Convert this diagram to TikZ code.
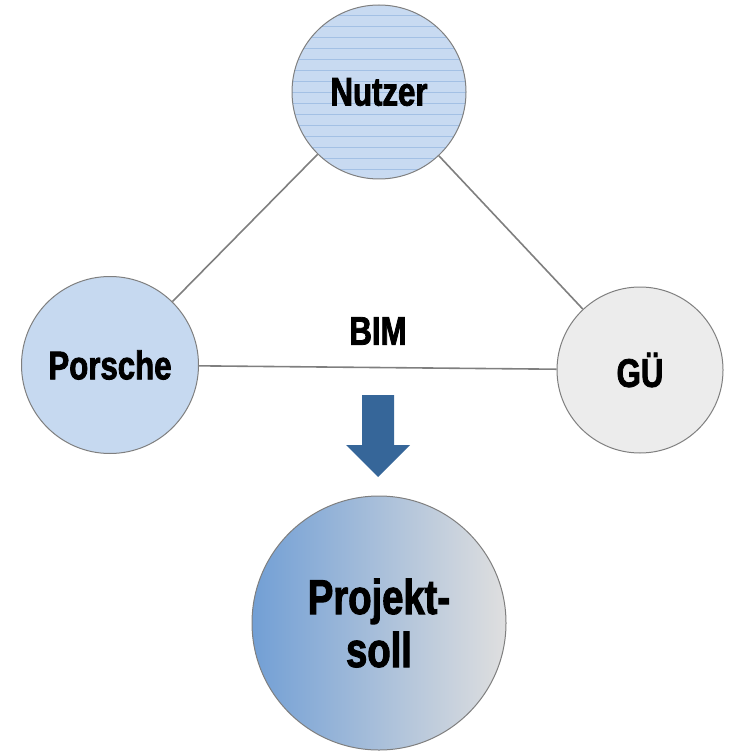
\documentclass[tikz,border=0pt]{standalone}
\usepackage{fontspec}
\setmainfont{Liberation Sans}[FakeStretch=0.78,FakeBold=2]

\definecolor{nutzerblue}{HTML}{C8DAF1}
\definecolor{hatchblue}{HTML}{A3C0E4}
\definecolor{porscheblue}{HTML}{C6D9F0}
\definecolor{guegray}{HTML}{ECECEC}
\definecolor{rimgray}{HTML}{7F7F7F}
\definecolor{arrowblue}{HTML}{366699}
\definecolor{sollleft}{HTML}{729FD5}
\definecolor{sollmid}{HTML}{BFCCDA}
\definecolor{sollright}{HTML}{DFDFDF}

\tikzset{
  party/.style={circle, draw=rimgray, line width=1pt, inner sep=0pt,
    font=\bfseries\fontsize{40}{42}\selectfont},
  link/.style={draw=rimgray, line width=1.6pt},
}

\begin{document}
\begin{tikzpicture}[x=1pt,y=-1pt]
 \useasboundingbox (0,0) rectangle (729,751);
 % the three parties
 \node[party, fill=nutzerblue, minimum size=174pt,
   path picture={\foreach \y in {-88,-77,...,88} % horizontal hatching
     \draw[hatchblue, line width=0.6pt] ([yshift=\y pt]path picture bounding box.west) -- ([yshift=\y pt]path picture bounding box.east);}]
   (nutzer) at (379,92) {Nutzer};
 \node[party, fill=porscheblue, minimum size=177pt] (porsche) at (110,365) {Porsche};
 \node[party, fill=guegray, minimum size=166pt] (gue) at (640,370) {GÜ};
 % links
 \draw[link] (nutzer) -- (porsche);
 \draw[link] (nutzer) -- (gue);
 \draw[link] (porsche) -- (gue);
 \node[font=\bfseries\fontsize{40}{42}\selectfont] (bim) at (378,331) {BIM};
 % block arrow down
 \fill[arrowblue] (362,395) -- (394,395) -- (394,445) -- (410,445) -- (378,477)
   -- (346,445) -- (362,445) -- cycle;
 % result
 \node[circle, draw=rimgray, line width=1pt, minimum size=254pt, inner sep=0pt,
   left color=sollleft, middle color=sollmid, right color=sollright,
   align=center, font=\bfseries\fontsize{49}{53}\selectfont]
   (soll) at (379,623) {Projekt-\\soll};
\end{tikzpicture}
\end{document}
